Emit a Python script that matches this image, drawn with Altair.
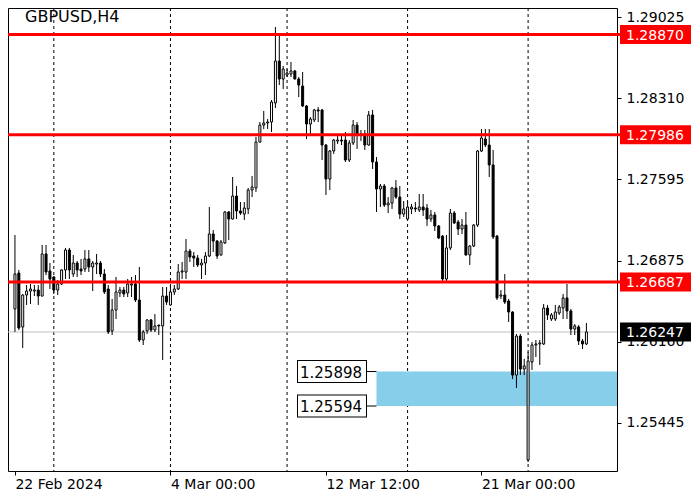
import altair as alt
import pandas as pd

# ---- data (GBPUSD H4 candles) ----
opens = [
    1.26450, 1.26767, 1.26291, 1.26573, 1.26608, 1.26608, 1.26617, 1.26564, 1.26935, 1.26785,
    1.26732, 1.26617, 1.26670, 1.26794, 1.26970, 1.26758, 1.26855, 1.26802, 1.26802, 1.26891,
    1.26820, 1.26846, 1.26855, 1.26758, 1.26626, 1.26256, 1.26441, 1.26591, 1.26617, 1.26591,
    1.26661, 1.26670, 1.26529, 1.26176, 1.26256, 1.26353, 1.26264, 1.26308, 1.26300, 1.26564,
    1.26485, 1.26600, 1.26626, 1.26776, 1.26776, 1.26961, 1.26917, 1.26899, 1.26838, 1.26855,
    1.26917, 1.27111, 1.27049, 1.26926, 1.27032, 1.27305, 1.27243, 1.27446, 1.27314, 1.27287,
    1.27332, 1.27499, 1.27517, 1.27922, 1.28072, 1.28090, 1.28099, 1.28267, 1.28637, 1.28478,
    1.28513, 1.28522, 1.28549, 1.28478, 1.28416, 1.28240, 1.28081, 1.28117, 1.28205, 1.28205,
    1.27896, 1.27596, 1.27843, 1.27931, 1.27940, 1.27940, 1.27764, 1.27914, 1.28072, 1.27984,
    1.27993, 1.27896, 1.28161, 1.27746, 1.27508, 1.27534, 1.27367, 1.27384, 1.27517, 1.27437,
    1.27287, 1.27243, 1.27332, 1.27340, 1.27323, 1.27349, 1.27340, 1.27243, 1.27279, 1.27182,
    1.27093, 1.26714, 1.26988, 1.27296, 1.27217, 1.27155, 1.27190, 1.26926, 1.27005, 1.27190,
    1.27843, 1.27949, 1.27896, 1.27720, 1.27093, 1.26564, 1.26573, 1.26520, 1.26423, 1.25867,
    1.26211, 1.25920, 1.25118, 1.25982, 1.26132, 1.26141, 1.26141, 1.26458, 1.26361, 1.26361,
    1.26414, 1.26458, 1.26547, 1.26432, 1.26273, 1.26291, 1.26167, 1.26141,
]
highs = [
    1.27102, 1.26794, 1.26580, 1.26661, 1.26670, 1.26661, 1.26661, 1.27014, 1.27014, 1.26855,
    1.26740, 1.26705, 1.26800, 1.26988, 1.26988, 1.26926, 1.26873, 1.26891, 1.26970, 1.26970,
    1.26873, 1.26935, 1.26873, 1.26802, 1.26661, 1.26538, 1.26732, 1.26644, 1.26644, 1.26714,
    1.26732, 1.26749, 1.26820, 1.26264, 1.26358, 1.26361, 1.26405, 1.26310, 1.26644, 1.26644,
    1.26661, 1.26661, 1.26846, 1.26864, 1.27067, 1.26979, 1.26952, 1.26926, 1.26891, 1.26952,
    1.27349, 1.27146, 1.27058, 1.27058, 1.27314, 1.27314, 1.27614, 1.27534, 1.27393, 1.27393,
    1.27517, 1.27623, 1.27967, 1.28099, 1.28196, 1.28125, 1.28293, 1.28937, 1.28866, 1.28593,
    1.28566, 1.28628, 1.28558, 1.28496, 1.28540, 1.28249, 1.28143, 1.28214, 1.28231, 1.28214,
    1.27905, 1.27852, 1.27949, 1.27975, 1.27984, 1.28011, 1.27940, 1.28117, 1.28099, 1.28028,
    1.28028, 1.28196, 1.28205, 1.27790, 1.27552, 1.27552, 1.27437, 1.27526, 1.27587, 1.27534,
    1.27402, 1.27393, 1.27376, 1.27393, 1.27464, 1.27464, 1.27376, 1.27323, 1.27305, 1.27190,
    1.27102, 1.27102, 1.27332, 1.27314, 1.27235, 1.27243, 1.27305, 1.27014, 1.27199, 1.27852,
    1.28037, 1.28037, 1.28037, 1.27852, 1.27102, 1.26617, 1.26758, 1.26538, 1.26430, 1.26229,
    1.26229, 1.26009, 1.26070, 1.26159, 1.26176, 1.26176, 1.26494, 1.26485, 1.26414, 1.26485,
    1.26485, 1.26582, 1.26670, 1.26450, 1.26317, 1.26308, 1.26185, 1.26326,
]
lows = [
    1.26247, 1.26264, 1.26106, 1.26485, 1.26494, 1.26564, 1.26485, 1.26560, 1.26749, 1.26626,
    1.26582, 1.26573, 1.26661, 1.26714, 1.26714, 1.26732, 1.26732, 1.26749, 1.26776, 1.26776,
    1.26608, 1.26758, 1.26732, 1.26582, 1.26229, 1.26220, 1.26361, 1.26555, 1.26555, 1.26555,
    1.26555, 1.26511, 1.26159, 1.26132, 1.26229, 1.26247, 1.26247, 1.26220, 1.26000, 1.26485,
    1.26480, 1.26573, 1.26617, 1.26714, 1.26714, 1.26864, 1.26820, 1.26820, 1.26714, 1.26749,
    1.26908, 1.26952, 1.26891, 1.26920, 1.27023, 1.27058, 1.27240, 1.27243, 1.27279, 1.27235,
    1.27287, 1.27437, 1.27482, 1.27918, 1.28037, 1.28037, 1.28011, 1.28222, 1.28425, 1.28390,
    1.28496, 1.28496, 1.28475, 1.28319, 1.28231, 1.27949, 1.27993, 1.28099, 1.28099, 1.27764,
    1.27455, 1.27499, 1.27817, 1.27905, 1.27896, 1.27746, 1.27746, 1.27896, 1.27861, 1.27931,
    1.27852, 1.27890, 1.27684, 1.27305, 1.27349, 1.27349, 1.27296, 1.27332, 1.27420, 1.27243,
    1.27261, 1.27240, 1.27287, 1.27305, 1.27305, 1.27270, 1.27182, 1.27217, 1.27138, 1.27067,
    1.26697, 1.26697, 1.26970, 1.27199, 1.27102, 1.27111, 1.26920, 1.26838, 1.26996, 1.27173,
    1.27834, 1.27878, 1.27614, 1.27067, 1.26529, 1.26538, 1.26494, 1.26335, 1.25832, 1.25753,
    1.25867, 1.25867, 1.25100, 1.25912, 1.26026, 1.25956, 1.26132, 1.26353, 1.26344, 1.26344,
    1.26397, 1.26361, 1.26361, 1.26220, 1.26220, 1.26132, 1.26097, 1.26132,
]
closes = [
    1.26758, 1.26282, 1.26573, 1.26608, 1.26626, 1.26617, 1.26564, 1.26935, 1.26776, 1.26714,
    1.26617, 1.26670, 1.26794, 1.26970, 1.26794, 1.26855, 1.26794, 1.26785, 1.26891, 1.26820,
    1.26855, 1.26855, 1.26758, 1.26600, 1.26247, 1.26441, 1.26600, 1.26617, 1.26582, 1.26670,
    1.26670, 1.26529, 1.26176, 1.26247, 1.26353, 1.26264, 1.26300, 1.26300, 1.26564, 1.26511,
    1.26600, 1.26626, 1.26776, 1.26785, 1.26961, 1.26908, 1.26899, 1.26838, 1.26855, 1.26917,
    1.27111, 1.27049, 1.26917, 1.27041, 1.27305, 1.27243, 1.27446, 1.27314, 1.27296, 1.27340,
    1.27499, 1.27526, 1.27922, 1.28072, 1.28090, 1.28099, 1.28275, 1.28637, 1.28478, 1.28566,
    1.28531, 1.28549, 1.28478, 1.28425, 1.28240, 1.28081, 1.28125, 1.28205, 1.28196, 1.27896,
    1.27596, 1.27843, 1.27940, 1.27940, 1.27931, 1.27764, 1.27914, 1.28072, 1.27984, 1.27993,
    1.27896, 1.28161, 1.27746, 1.27508, 1.27534, 1.27367, 1.27384, 1.27517, 1.27437, 1.27287,
    1.27332, 1.27349, 1.27349, 1.27332, 1.27349, 1.27323, 1.27243, 1.27279, 1.27182, 1.27076,
    1.26714, 1.26988, 1.27296, 1.27208, 1.27155, 1.27190, 1.26926, 1.27005, 1.27190, 1.27843,
    1.27958, 1.27896, 1.27720, 1.27085, 1.26547, 1.26573, 1.26511, 1.26423, 1.25867, 1.26211,
    1.25920, 1.25947, 1.25991, 1.26132, 1.26141, 1.26150, 1.26458, 1.26397, 1.26397, 1.26423,
    1.26467, 1.26547, 1.26432, 1.26273, 1.26300, 1.26167, 1.26141, 1.26247,
]

x_tick_idx = [0, 40, 80, 120]
x_tick_text = ["22 Feb 2024", "4 Mar 00:00", "12 Mar 12:00", "21 Mar 00:00"]
y_tick_values = [1.29025, 1.28310, 1.27595, 1.26875, 1.26160, 1.25445]
separator_idx = [10, 40, 70, 101, 132]
level_prices = [1.28870, 1.27986, 1.26687]
current_price = 1.26247
zone_start_idx = 93
zone_prices = [1.25898, 1.25594]
symbol_text = "GBPUSD,H4"

# ---- layout / style ----
W, H = 609, 463
X_DOMAIN = [-0.5, 153.58]
Y_DOMAIN = [1.250207, 1.291044]
FONT = "DejaVu Sans"

df = pd.DataFrame({"idx": list(range(len(opens))), "open": opens, "high": highs,
                   "low": lows, "close": closes})

label_expr = " : ".join(f"datum.value == {i} ? '{t}'" for i, t in zip(x_tick_idx, x_tick_text)) + " : ''"

xs = alt.Scale(domain=X_DOMAIN, nice=False, zero=False)
ys = alt.Scale(domain=Y_DOMAIN, nice=False, zero=False)
x_axis = alt.Axis(values=x_tick_idx, labelExpr=label_expr, labelAlign="left", labelFlush=False,
                  labelOverlap=False, grid=False, domain=False, tickSize=4, tickColor="black",
                  labelPadding=2, labelFont=FONT, labelFontSize=14, labelColor="black", title=None)
y_axis = alt.Axis(orient="right", values=y_tick_values, format=".5f", grid=False, domain=False,
                  tickSize=4, tickColor="black", labelPadding=5, labelFont=FONT, labelFontSize=14,
                  labelColor="black", labelOverlap=False, title=None)


def X(field):
    return alt.X(f"{field}:Q", scale=xs, axis=x_axis)


def Y(field):
    return alt.Y(f"{field}:Q", scale=ys, axis=y_axis)


sep = alt.Chart(pd.DataFrame({"idx": separator_idx})).mark_rule(
    color="black", strokeWidth=1, strokeDash=[3, 3]).encode(x=X("idx"))

zone = alt.Chart(pd.DataFrame({"start": [zone_start_idx], "top": [zone_prices[0]],
                               "bot": [zone_prices[1]]})).mark_rect(color="#87CEEB").encode(
    x=X("start"), x2=alt.value(W), y=Y("top"), y2=alt.Y2("bot"))

cur = alt.Chart(pd.DataFrame({"price": [current_price], "label": [f"{current_price:.5f}"]}))
cur_line = cur.mark_rule(color="#C0C0C0", strokeWidth=1).encode(y=Y("price"))

wick = alt.Chart(df).mark_rule(color="black", strokeWidth=1).encode(
    x=X("idx"), y=Y("low"), y2=alt.Y2("high"))
body = alt.Chart(df).mark_bar(width=2, stroke="black", strokeWidth=1).encode(
    x=X("idx"), y=Y("open"), y2=alt.Y2("close"),
    fill=alt.condition("datum.close >= datum.open", alt.value("white"), alt.value("black")))

lv = alt.Chart(pd.DataFrame({"price": level_prices, "label": [f"{p:.5f}" for p in level_prices]}))
red_lines = lv.mark_rule(color="#FF0000", strokeWidth=3).encode(
    y=Y("price"), x=alt.value(0), x2=alt.value(W + 3))
red_boxes = lv.mark_rule(color="#FF0000", strokeWidth=19).encode(
    y=Y("price"), x=alt.value(W + 3), x2=alt.value(W + 74))
red_text = lv.mark_text(color="white", align="left", baseline="middle", font=FONT,
                        fontSize=14, dy=1).encode(y=Y("price"), x=alt.value(W + 9), text="label:N")

cur_box = cur.mark_rule(color="black", strokeWidth=19).encode(
    y=Y("price"), x=alt.value(W + 3), x2=alt.value(W + 74))
cur_text = cur.mark_text(color="white", align="left", baseline="middle", font=FONT,
                         fontSize=14, dy=1).encode(y=Y("price"), x=alt.value(W + 9), text="label:N")

zl = alt.Chart(pd.DataFrame({"price": zone_prices, "label": [f"{p:.5f}" for p in zone_prices],
                             "start": [zone_start_idx] * len(zone_prices)}))
zl_border = zl.mark_rule(color="black", strokeWidth=23).encode(
    y=Y("price"), x=alt.value(289), x2=alt.value(359))
zl_fill = zl.mark_rule(color="white", strokeWidth=21).encode(
    y=Y("price"), x=alt.value(290), x2=alt.value(358))
zl_conn = zl.mark_rule(color="black", strokeWidth=1).encode(
    y=Y("price"), x=X("start"), x2=alt.value(358))
zl_text = zl.mark_text(color="black", align="left", baseline="middle", font=FONT,
                       fontSize=15, dy=1).encode(y=Y("price"), x=alt.value(292), text="label:N")

title = alt.Chart(pd.DataFrame({"t": [symbol_text]})).mark_text(
    align="left", baseline="top", font=FONT, fontSize=16, color="black").encode(
    x=alt.value(17), y=alt.value(1), text="t:N")

chart = alt.layer(
    sep, zone, cur_line, wick, body, red_lines, red_boxes, red_text, cur_box, cur_text,
    zl_border, zl_fill, zl_conn, zl_text, title
).properties(
    width=W, height=H, background="white",
    autosize=alt.AutoSizeParams(type="none"),
    padding={"left": 0, "top": 0, "right": 75, "bottom": 20},
).configure_view(stroke="black", strokeWidth=1)

chart.save("out.html", embed_options={"renderer": "svg", "actions": False})
